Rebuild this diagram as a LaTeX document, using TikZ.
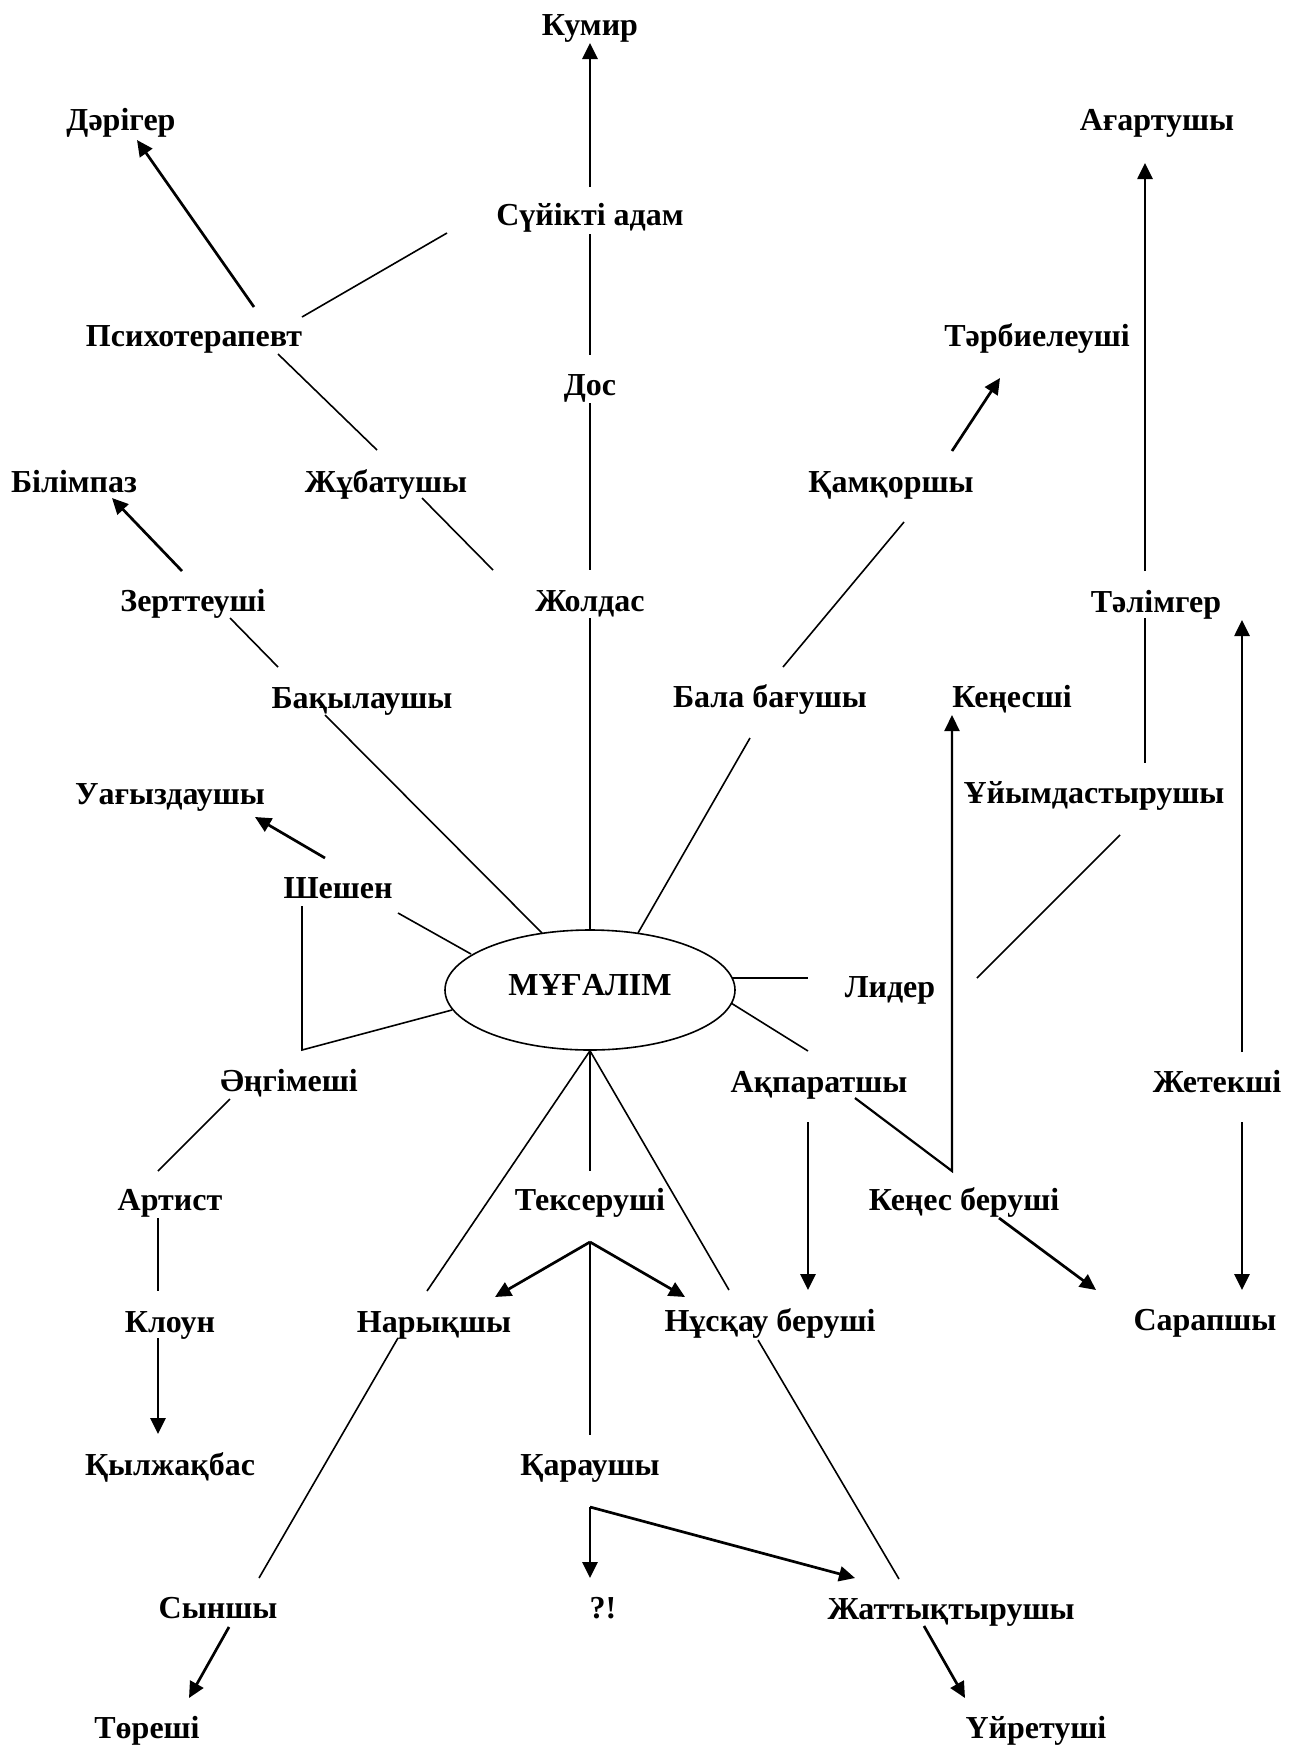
\documentclass[tikz,border=0pt]{standalone}
\usepackage{fontspec}
\setmainfont{Liberation Serif}
\usetikzlibrary{arrows.meta,shapes.geometric}
\begin{document}
\begin{tikzpicture}[x=1pt,y=-1pt,
  lab/.style={inner sep=0pt, text height=21pt, text depth=1pt, font=\fontsize{32}{38}\selectfont\bfseries},
  mugst/.style={draw, ellipse, line width=1.6pt, minimum width=290pt, minimum height=120pt, inner sep=0pt, text height=21pt, text depth=11pt, font=\fontsize{32}{38}\selectfont\bfseries},
  ln/.style={line width=1.6pt},
  ar/.style={line width=2.7pt, -{Triangle[length=16pt,width=15pt]}},
]
\useasboundingbox (0,0) rectangle (1296,1746);

\node[lab] (kumir) at (590,25) {Кумир};
\node[lab] (darig) at (121,120) {Дәрігер};
\node[lab] (agart) at (1157,120) {Ағартушы};
\node[lab] (suyik) at (590,215) {Сүйікті адам};
\node[lab] (psych) at (194,336) {Психотерапевт};
\node[lab] (tarb) at (1037,336) {Тәрбиелеуші};
\node[lab] (dos) at (590,385) {Дос};
\node[lab] (bilim) at (74,482) {Білімпаз};
\node[lab] (zhub) at (386,482) {Жұбатушы};
\node[lab] (kamk) at (891,482) {Қамқоршы};
\node[lab] (zert) at (193,601) {Зерттеуші};
\node[lab] (zhol) at (590,601) {Жолдас};
\node[lab] (talim) at (1156,602) {Тәлімгер};
\node[lab] (bakyl) at (362,698) {Бақылаушы};
\node[lab] (bala) at (770,697) {Бала бағушы};
\node[lab] (kenesshi) at (1012,697) {Кеңесші};
\node[lab] (uagyz) at (170,794) {Уағыздаушы};
\node[lab] (uiym) at (1094,793) {Ұйымдастырушы};
\node[lab] (sheshen) at (338,888) {Шешен};
\node[mugst] (mug) at (590,990) {МҰҒАЛІМ};
\node[lab] (lider) at (890,987) {Лидер};
\node[lab] (angim) at (289,1081) {Әңгімеші};
\node[lab] (akpar) at (819,1082) {Ақпаратшы};
\node[lab] (zhetek) at (1217,1082) {Жетекші};
\node[lab] (artist) at (170,1200) {Артист};
\node[lab] (tekser) at (590,1200) {Тексеруші};
\node[lab] (kenesber) at (964,1200) {Кеңес беруші};
\node[lab] (kloun) at (170,1322) {Клоун};
\node[lab] (naryk) at (434,1322) {Нарықшы};
\node[lab] (nuskau) at (770,1321) {Нұсқау беруші};
\node[lab] (sarap) at (1205,1320) {Сарапшы};
\node[lab] (kylzh) at (170,1465) {Қылжақбас};
\node[lab] (karau) at (590,1465) {Қараушы};
\node[lab] (synshy) at (218,1608) {Сыншы};
\node[lab] (qe) at (603,1608) {?!};
\node[lab] (zhatt) at (951,1609) {Жаттықтырушы};
\node[lab] (toreshi) at (147,1728) {Төреші};
\node[lab] (uiret) at (1036,1728) {Үйретуші};

\coordinate (angc) at (302,1050);
\coordinate (kbc) at ([shift={(-12,-29)}]kenesber.center);
\coordinate (tapex) at ([shift={(0,42)}]tekser.center);
\coordinate (kapex) at ([shift={(0,42)}]karau.center);

% upper part
\draw[ar] ([shift={(0,-28)}]suyik.center) -- ([shift={(0,18)}]kumir.center);
\draw[ar] ([shift={(60,-29)}]psych.center) -- ([shift={(16,20)}]darig.center);
\draw[ln] ([shift={(108,-19)}]psych.center) -- ([shift={(-143,18)}]suyik.center);
\draw[ln] ([shift={(0,19)}]suyik.center) -- ([shift={(0,-30)}]dos.center);
\draw[ln] ([shift={(84,18)}]psych.center) -- ([shift={(-9,-32)}]zhub.center);
\draw[ln] ([shift={(0,18)}]dos.center) -- ([shift={(0,-31)}]zhol.center);
\draw[ar] ([shift={(-11,-30)}]zert.center) -- ([shift={(38,16)}]bilim.center);
\draw[ln] ([shift={(36,16)}]zhub.center) -- ([shift={(-97,-31)}]zhol.center);
\draw[ln] ([shift={(37,17)}]zert.center) -- ([shift={(-84,-31)}]bakyl.center);
\draw[ln] ([shift={(0,17)}]zhol.center) -- (mug.north);
\draw[ln] ([shift={(-37,17)}]bakyl.center) -- ([shift={(-48,-57)}]mug.center);
\draw[ar] ([shift={(-13,-30)}]sheshen.center) -- ([shift={(85,23)}]uagyz.center);
\draw[ln] ([shift={(60,25)}]sheshen.center) -- ([shift={(-119,-36)}]mug.center);
\draw[ln] ([shift={(-36,18)}]sheshen.center) -- (angc) -- ([shift={(-138,20)}]mug.center);

% right upper
\draw[ar] ([shift={(61,-31)}]kamk.center) -- ([shift={(-37,42)}]tarb.center);
\draw[ln] ([shift={(13,40)}]kamk.center) -- ([shift={(13,-30)}]bala.center);
\draw[ln] ([shift={(-20,41)}]bala.center) -- ([shift={(48,-57)}]mug.center);
\draw[ar] ([shift={(-11,-31)}]talim.center) -- ([shift={(-12,43)}]agart.center);
\draw[ln] ([shift={(-11,16)}]talim.center) -- ([shift={(51,-30)}]uiym.center);
\draw[ln] ([shift={(142,-12)}]mug.center) -- ([shift={(-82,-9)}]lider.center);
\draw[ln] ([shift={(141,13)}]mug.center) -- ([shift={(-11,-31)}]akpar.center);
\draw[ln] ([shift={(87,-9)}]lider.center) -- ([shift={(26,42)}]uiym.center);
\draw[ar] ([shift={(-11,40)}]akpar.center) -- ([shift={(38,-31)}]nuskau.center);
\draw[ar, line width=2.2pt] ([shift={(36,16)}]akpar.center) -- (kbc) -- ([shift={(-60,18)}]kenesshi.center);
\draw[ar] ([shift={(35,18)}]kenesber.center) -- ([shift={(-109,-30)}]sarap.center);
\draw[ar] ([shift={(25,40)}]zhetek.center) -- ([shift={(37,-30)}]sarap.center);
\draw[ar] ([shift={(25,-30)}]zhetek.center) -- ([shift={(86,18)}]talim.center);

% lower left
\draw[ln] ([shift={(-59,18)}]angim.center) -- ([shift={(-12,-29)}]artist.center);
\draw[ln] ([shift={(-12,18)}]artist.center) -- ([shift={(-12,-31)}]kloun.center);
\draw[ar] ([shift={(-12,16)}]kloun.center) -- ([shift={(-12,-31)}]kylzh.center);

% lower centre
\draw[ln] (mug.south) -- ([shift={(-7,-31)}]naryk.center);
\draw[ln] (mug.south) -- ([shift={(0,-29)}]tekser.center);
\draw[ln] (mug.south) -- ([shift={(-41,-31)}]nuskau.center);
\draw[ar] (tapex) -- ([shift={(61,-25)}]naryk.center);
\draw[ar] (tapex) -- ([shift={(-85,-24)}]nuskau.center);
\draw[ln] (tapex) -- ([shift={(0,-30)}]karau.center);
\draw[ln] ([shift={(-36,16)}]naryk.center) -- ([shift={(41,-30)}]synshy.center);
\draw[ar] ([shift={(11,19)}]synshy.center) -- ([shift={(42,-30)}]toreshi.center);
\draw[ar] (kapex) -- ([shift={(-13,-30)}]qe.center);
\draw[ar] (kapex) -- ([shift={(-96,-31)}]zhatt.center);
\draw[ln] ([shift={(-12,19)}]nuskau.center) -- ([shift={(-52,-30)}]zhatt.center);
\draw[ar] ([shift={(-27,17)}]zhatt.center) -- ([shift={(-71,-30)}]uiret.center);
\end{tikzpicture}
\end{document}
